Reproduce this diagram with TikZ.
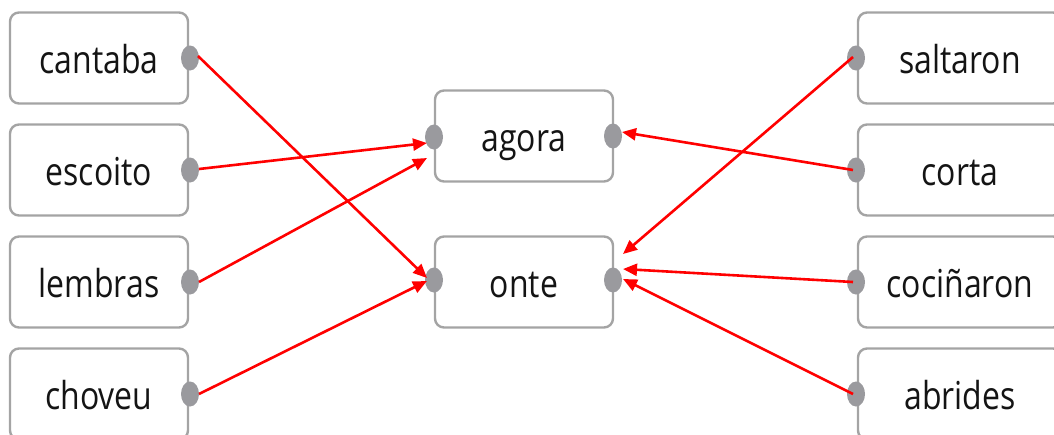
\documentclass[tikz,border=0pt]{standalone}
\usepackage{fontspec}
\setmainfont[FakeStretch=0.83]{Open Sans}
\usetikzlibrary{arrows.meta,shapes.geometric}
\definecolor{boxgray}{HTML}{A4A4A4}
\definecolor{dotgray}{HTML}{9A9A9E}
\definecolor{arrred}{HTML}{FF0000}
\definecolor{txt}{HTML}{141414}
\begin{document}
\begin{tikzpicture}[x=1pt,y=-1pt,
  word/.style={draw=boxgray, line width=2.4pt, rounded corners=9pt,
    minimum width=178pt, minimum height=91pt, inner sep=0pt, fill=white,
    text=txt, text height=30pt, text depth=0pt,
    font=\fontsize{38.5}{40}\selectfont},
  wideword/.style={word, minimum width=204pt},
  port/.style={ellipse, fill=dotgray, draw=none, minimum width=18pt,
    minimum height=25pt, inner sep=0pt},
  link/.style={draw=arrred, line width=2.6pt,
    -{Triangle[length=14pt,width=12pt]}}]
\useasboundingbox (0,0) rectangle (1054,434);
\clip (0,0) rectangle (1054,434);
% left boxes
\node[word] (cantaba) at (99,58) {cantaba};
\node[word] (escoito) at (99,170) {escoito};
\node[word] (lembras) at (99,282) {lembras};
\node[word] (choveu) at (99,394) {choveu};
% centre boxes
\node[word] (agora) at (524,136) {agora};
\node[word] (onte) at (524,282) {onte};
% right boxes
\node[wideword] (saltaron) at (960,58) {saltaron};
\node[wideword] (corta) at (960,170) {corta};
\node[wideword] (cocinaron) at (960,282) {cociñaron};
\node[wideword] (abrides) at (960,394) {abrides};
% ports
\node[port] (p-cantaba) at (190,58) {};
\node[port] (p-escoito) at (190,170) {};
\node[port] (p-lembras) at (190,282) {};
\node[port] (p-choveu) at (190,394) {};
\node[port] (p-agora-l) at (434,137) {};
\node[port] (p-agora-r) at (613,136) {};
\node[port] (p-onte-l) at (434,280) {};
\node[port] (p-onte-r) at (613,280) {};
\node[port] (p-saltaron) at (856,58) {};
\node[port] (p-corta) at (856,170) {};
\node[port] (p-cocinaron) at (856,282) {};
\node[port] (p-abrides) at (856,394) {};
% arrow end points
\coordinate (e-cantaba) at (427,278);
\coordinate (e-escoito) at (427,143);
\coordinate (e-lembras) at (427,158);
\coordinate (e-choveu) at (427,281);
\coordinate (e-saltaron) at (623,254);
\coordinate (e-corta) at (622,132);
\coordinate (e-cocinaron) at (623,269);
\coordinate (e-abrides) at (623,279);
% connectors
\draw[link] ([xshift=8pt,yshift=2pt]p-cantaba.center) -- (e-cantaba);
\draw[link] ([xshift=9pt,yshift=1pt]p-escoito.center) -- (e-escoito);
\draw[link] ([xshift=9pt]p-lembras.center) -- (e-lembras);
\draw[link] ([xshift=9pt]p-choveu.center) -- (e-choveu);
\draw[link] ([xshift=-3pt,yshift=1pt]p-saltaron.center) -- (e-saltaron);
\draw[link] ([xshift=-3pt]p-corta.center) -- (e-corta);
\draw[link] ([xshift=-3pt]p-cocinaron.center) -- (e-cocinaron);
\draw[link] ([xshift=-3pt]p-abrides.center) -- (e-abrides);
\end{tikzpicture}
\end{document}
